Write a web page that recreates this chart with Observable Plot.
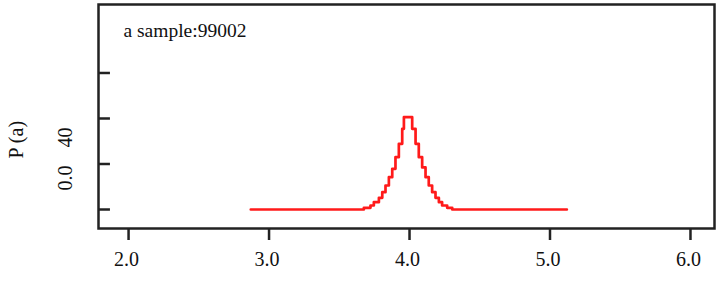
<!DOCTYPE html>
<html>
<head>
<meta charset="utf-8">
<script src="https://cdn.jsdelivr.net/npm/d3@7"></script>
<script src="https://cdn.jsdelivr.net/npm/@observablehq/plot@0.6"></script>
<style>
  html, body { margin: 0; padding: 0; background: #fff; }
  #chart svg { display: block; }
  #chart svg, #chart svg text { font-family: "Liberation Serif", "DejaVu Serif", serif !important; }
</style>
</head>
<body>
<div id="chart"></div>
<script>
// Step-curve breakpoints (a) and P(a) values
const aValues = [2.87, 3.675, 3.722, 3.746, 3.782, 3.806, 3.829, 3.853, 3.877, 3.900, 3.924, 3.948, 3.960,
                 4.019, 4.043, 4.066, 4.090, 4.114, 4.137, 4.161, 4.185, 4.209, 4.232, 4.268, 4.304, 5.12];
const pValues = [0, 0.74, 1.76, 3.22, 5.12, 7.62, 10.54, 14.22, 17.88, 23.0, 28.86, 35.46, 40.58,
                 35.46, 28.86, 23.0, 18.5, 14.22, 10.54, 7.62, 5.12, 3.22, 1.76, 0.74, 0, 0];
const xTicks = [2, 3, 4, 5, 6];
const xTickLabels = ["2.0", "3.0", "4.0", "5.0", "6.0"];
const yTicks = [0, 20, 40, 60];
const yTickLabels = ["0.0", "40"];
const yTickLabelPos = [8.4, 27.2];
const sampleLabel = "a sample:99002";
const yTitle = "P (a)";

const data = aValues.map((a, i) => ({a, p: pValues[i]}));
const xLabelRows = xTicks.map((v, i) => ({v, label: xTickLabels[i]}));
const yLabelRows = yTickLabelPos.map((v, i) => ({v, label: yTickLabels[i]}));
const font = "Liberation Serif";
const yMin = -8.35;
const pxToY = 20 / 45.5;

const chart = Plot.plot({
  width: 720,
  height: 287,
  marginTop: 4,
  marginBottom: 59,
  marginLeft: 98,
  marginRight: 6,
  style: {fontFamily: font, fontSize: "20px", color: "#111", background: "#fff"},
  x: {domain: [1.786, 6.171], axis: null},
  y: {domain: [yMin, 90.1], axis: null},
  marks: [
    Plot.frame({stroke: "#222", strokeWidth: 2.5}),
    // x ticks (outward, below the frame)
    Plot.ruleX(xTicks, {x: d => d, y1: yMin, y2: yMin - 12 * pxToY, stroke: "#222", strokeWidth: 2.5}),
    Plot.text(xLabelRows, {x: "v", y: yMin - 31 * pxToY, dx: -2, text: "label", fontSize: 20, fontFamily: font, fill: "#111"}),
    // y ticks (inward, from the left edge of the frame)
    Plot.ruleY(yTicks, {y: d => d, x1: 1.786, x2: 1.871, stroke: "#222", strokeWidth: 2.5}),
    Plot.text(yLabelRows, {frameAnchor: "left", y: "v", dx: -33, rotate: -90, text: "label", fontSize: 20, fontFamily: font, fill: "#111"}),
    Plot.text([yTitle], {frameAnchor: "left", y: 22.4, dx: -82, rotate: -90, fontSize: 20, fontFamily: font, fill: "#111"}),
    Plot.text([sampleLabel], {frameAnchor: "top-left", dx: 25, dy: 19, fontSize: 19.5, fontFamily: font, fill: "#111"}),
    Plot.line(data, {x: "a", y: "p", curve: "step-after", stroke: "#ff1a1a", strokeWidth: 2.7})
  ]
});
document.getElementById("chart").append(chart);
</script>
</body>
</html>
